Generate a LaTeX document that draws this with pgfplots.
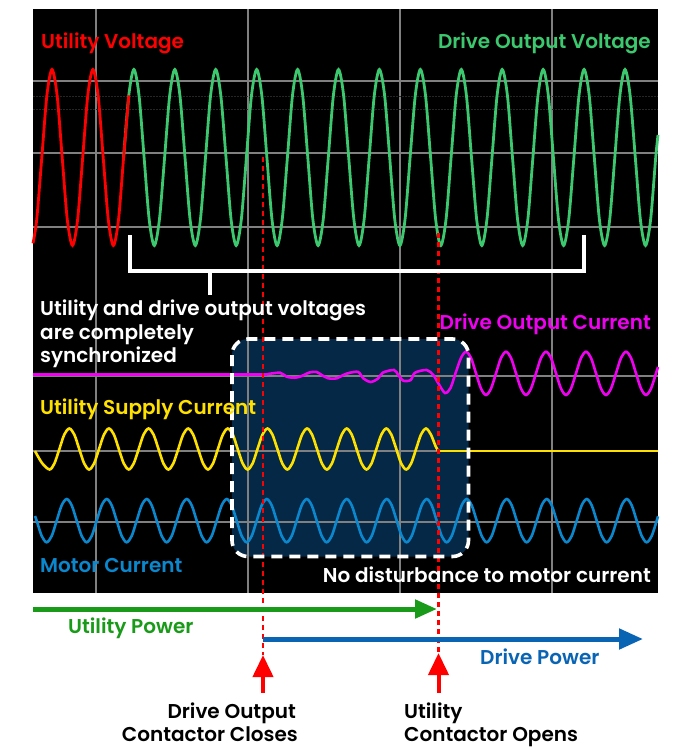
\documentclass[border=0pt]{standalone}
\usepackage{pgfplots}
\pgfplotsset{compat=1.18}
\usepackage{fontspec}
\setmainfont{Poppins}[BoldFont={Poppins SemiBold}]
\usetikzlibrary{arrows.meta}
\definecolor{vred}{RGB}{255,0,0}
\definecolor{vgreen}{RGB}{60,200,110}
\definecolor{cmag}{RGB}{240,0,240}
\definecolor{cyel}{RGB}{255,225,0}
\definecolor{cblue}{RGB}{10,135,205}
\definecolor{boxfill}{RGB}{5,40,70}
\definecolor{gridgray}{RGB}{128,128,128}
\definecolor{pgreen}{RGB}{25,155,25}
\definecolor{pblue}{RGB}{10,100,180}
\begin{document}
\begin{tikzpicture}
\begin{axis}[at={(0,0)}, anchor=south west, scale only axis, width=677pt, height=747pt,
  xmin=0, xmax=677, ymin=0, ymax=747, y dir=reverse, hide axis, clip=false]
\coordinate (TL) at (axis cs:0,0);
\coordinate (BR) at (axis cs:677,747);
% scope background
\fill[black] (axis cs:33,9) rectangle (axis cs:658,593);
\fill[boxfill, rounded corners=16pt] (axis cs:232,339) rectangle (axis cs:468.5,556.5);
% grid
\foreach \gx in {96,248,400,552}{
  \edef\tmp{\noexpand\draw[gridgray, line width=1.2pt] (axis cs:\gx,9) -- (axis cs:\gx,593);}\tmp}
\foreach \gy in {81,153,227,376,451,522}{
  \edef\tmp{\noexpand\draw[gridgray, line width=1.2pt] (axis cs:33,\gy) -- (axis cs:658,\gy);}\tmp}
\foreach \gy in {96,109}{
  \edef\tmp{\noexpand\draw[gray!30!black, line width=0.6pt, dash pattern=on 1.5pt off 1.5pt] (axis cs:33,\gy) -- (axis cs:658,\gy);}\tmp}
% drive output voltage (green)
\addplot[vgreen, line width=2.8pt, smooth] coordinates {
(123.6,157.5)(128.8,95.3)
(133.9,69.5)(139.0,95.3)(144.1,157.5)(149.2,219.7)(154.3,245.5)(159.4,219.7)(164.6,157.5)(169.7,95.3)
(174.8,69.5)(179.9,95.3)(185.0,157.5)(190.1,219.7)(195.3,245.5)(200.4,219.7)(205.5,157.5)(210.6,95.3)
(215.7,69.5)(220.8,95.3)(226.0,157.5)(231.1,219.7)(236.2,245.5)(241.3,219.7)(246.4,157.5)(251.5,95.3)
(256.7,69.5)(261.8,95.3)(266.9,157.5)(272.0,219.7)(277.1,245.5)(282.2,219.7)(287.4,157.5)(292.5,95.3)
(297.6,69.5)(302.7,95.3)(307.8,157.5)(312.9,219.7)(318.1,245.5)(323.2,219.7)(328.3,157.5)(333.4,95.3)
(338.5,69.5)(343.6,95.3)(348.7,157.5)(353.9,219.7)(359.0,245.5)(364.1,219.7)(369.2,157.5)(374.3,95.3)
(379.4,69.5)(384.6,95.3)(389.7,157.5)(394.8,219.7)(399.9,245.5)(405.0,219.7)(410.1,157.5)(415.3,95.3)
(420.4,69.5)(425.5,95.3)(430.6,157.5)(435.7,219.7)(440.8,245.5)(446.0,219.7)(451.1,157.5)(456.2,95.3)
(461.3,69.5)(466.4,95.3)(471.5,157.5)(476.7,219.7)(481.8,245.5)(486.9,219.7)(492.0,157.5)(497.1,95.3)
(502.2,69.5)(507.4,95.3)(512.5,157.5)(517.6,219.7)(522.7,245.5)(527.8,219.7)(532.9,157.5)(538.0,95.3)
(543.2,69.5)(548.3,95.3)(553.4,157.5)(558.5,219.7)(563.6,245.5)(568.7,219.7)(573.9,157.5)(579.0,95.3)
(584.1,69.5)(589.2,95.3)(594.3,157.5)(599.4,219.7)(604.6,245.5)(609.7,219.7)(614.8,157.5)(619.9,95.3)
(625.0,69.5)(630.1,95.3)(635.3,157.5)(640.4,219.7)(645.5,245.5)(650.6,219.7)(655.7,157.5)(658,135)
};
% utility voltage (red)
\addplot[vred, line width=2.8pt, smooth] coordinates {
(33,243.3)(36.7,219.7)(41.8,157.5)(46.9,95.3)(52.0,69.5)(57.1,95.3)(62.2,157.5)(67.3,219.7)
(72.5,245.5)(77.6,219.7)(82.7,157.5)(87.8,95.3)(92.9,69.5)(98.1,95.3)(103.2,157.5)(108.3,219.7)
(113.4,245.5)(118.5,219.7)(123.6,157.5)(128.8,95.3)
};
% drive output current (magenta)
\addplot[cmag, line width=2.6pt] coordinates {(33,374.3)(266.7,374.3)};
\addplot[cmag, line width=2.6pt, smooth] coordinates {
(266.7,374.3)(280,372.7)(286.7,376.7)(295,377.7)(301.7,376)(310,372.3)(316.7,372)(321.7,375)
(328.3,378.3)(336.7,378.3)(343.3,375)(350,372.7)(358.3,372)(363.3,378.3)(370.7,382)(378.3,378.3)
(382.7,372.7)(394,370)(398.3,375)(403.3,380.7)(410.7,380)(415,372.7)(426.7,370)(433.3,375)
(438.3,383.3)(445,393)(450.5,388)(455.5,373.3)(461,357.9)
(466,351.7)(471,357.9)(476,373.3)(481,388.6)(486,395)(491,388.6)(496,373.3)(501,357.9)
(506,351.7)(511,357.9)(516,373.3)(521,388.6)(526,395)(531,388.6)(536,373.3)(541,357.9)
(546,351.7)(551,357.9)(556,373.3)(561,388.6)(566,395)(571,388.6)(576,373.3)(581,357.9)
(586,351.7)(591,357.9)(596,373.3)(601,388.6)(606,395)(611,388.6)(616,373.3)(621,357.9)
(626,351.7)(631,357.9)(636,373.3)(641,388.6)(646,395)(651,388.6)(656,373.3)(658,367)
};
% utility supply current (yellow)
\addplot[cyel, line width=2.6pt, smooth] coordinates {
(35,451)(42,463)(49.5,469.5)(54.4,463.5)(59.4,449)(64.3,434.5)
(69.3,428.5)(74.3,434.5)(79.2,449)(84.2,463.5)(89.1,469.5)(94.1,463.5)(99.0,449)(104.0,434.5)
(108.9,428.5)(113.9,434.5)(118.8,449)(123.8,463.5)(128.8,469.5)(133.7,463.5)(138.7,449)(143.6,434.5)
(148.6,428.5)(153.5,434.5)(158.5,449)(163.4,463.5)(168.4,469.5)(173.3,463.5)(178.3,449)(183.2,434.5)
(188.2,428.5)(193.1,434.5)(198.1,449)(203.1,463.5)(208.0,469.5)(213.0,463.5)(217.9,449)(222.9,434.5)
(227.8,428.5)(232.8,434.5)(237.7,449)(242.7,463.5)(247.6,469.5)(252.6,463.5)(257.5,449)(262.5,434.5)
(267.5,428.5)(272.4,434.5)(277.4,449)(282.3,463.5)(287.3,469.5)(292.2,463.5)(297.2,449)(302.1,434.5)
(307.1,428.5)(312.0,434.5)(317.0,449)(321.9,463.5)(326.9,469.5)(331.9,463.5)(336.8,449)(341.8,434.5)
(346.7,428.5)(351.7,434.5)(356.6,449)(361.6,463.5)(366.5,469.5)(371.5,463.5)(376.4,449)(381.4,434.5)
(386.3,428.5)(391.3,434.5)(396.3,449)(401.2,463.5)(406.2,469.5)(411.1,463.5)(416.1,449)(421.0,434.5)
(426.0,428.5)(430.9,434.5)(435.5,446)(438.3,451)
};
\addplot[cyel, line width=2.8pt] coordinates {(438.3,451)(658,451)};
% motor current (blue)
\addplot[cblue, line width=2.6pt, smooth] coordinates {
(35,516)(36.7,520.7)(41.7,536.0)(46.7,542.3)(51.7,536.0)(56.7,520.7)(61.7,505.3)
(66.7,499)(71.7,505.3)(76.7,520.7)(81.7,536.0)(86.7,542.3)(91.7,536.0)(96.7,520.7)(101.7,505.3)
(106.7,499)(111.7,505.3)(116.7,520.7)(121.7,536.0)(126.7,542.3)(131.7,536.0)(136.7,520.7)(141.7,505.3)
(146.7,499)(151.7,505.3)(156.7,520.7)(161.7,536.0)(166.7,542.3)(171.7,536.0)(176.7,520.7)(181.7,505.3)
(186.7,499)(191.7,505.3)(196.7,520.7)(201.7,536.0)(206.7,542.3)(211.7,536.0)(216.7,520.7)(221.7,505.3)
(226.7,499)(231.7,505.3)(236.7,520.7)(241.7,536.0)(246.7,542.3)(251.7,536.0)(256.7,520.7)(261.7,505.3)
(266.7,499)(271.7,505.3)(276.7,520.7)(281.7,536.0)(286.7,542.3)(291.7,536.0)(296.7,520.7)(301.7,505.3)
(306.7,499)(311.7,505.3)(316.7,520.7)(321.7,536.0)(326.7,542.3)(331.7,536.0)(336.7,520.7)(341.7,505.3)
(346.7,499)(351.7,505.3)(356.7,520.7)(361.7,536.0)(366.7,542.3)(371.7,536.0)(376.7,520.7)(381.7,505.3)
(386.7,499)(391.7,505.3)(396.7,520.7)(401.7,536.0)(406.7,542.3)(411.7,536.0)(416.7,520.7)(421.7,505.3)
(426.7,499)(431.7,505.3)(436.7,520.7)(441.7,536.0)(446.7,542.3)(451.7,536.0)(456.7,520.7)(461.7,505.3)
(466.7,499)(471.7,505.3)(476.7,520.7)(481.7,536.0)(486.7,542.3)(491.7,536.0)(496.7,520.7)(501.7,505.3)
(506.7,499)(511.7,505.3)(516.7,520.7)(521.7,536.0)(526.7,542.3)(531.7,536.0)(536.7,520.7)(541.7,505.3)
(546.7,499)(551.7,505.3)(556.7,520.7)(561.7,536.0)(566.7,542.3)(571.7,536.0)(576.7,520.7)(581.7,505.3)
(586.7,499)(591.7,505.3)(596.7,520.7)(601.7,536.0)(606.7,542.3)(611.7,536.0)(616.7,520.7)(621.7,505.3)
(626.7,499)(631.7,505.3)(636.7,520.7)(641.7,536.0)(646.7,542.3)(651.7,536.0)(656.7,520.7)(658,516.3)
};
% red dashed event lines
\addplot[vred, line width=2.4pt, dash pattern=on 5pt off 4pt] coordinates {(263,157)(263,655)};
\addplot[vred, line width=2.4pt, dash pattern=on 5pt off 4pt] coordinates {(438.5,233)(438.5,653)};
% highlight box border
\draw[white, line width=3.6pt, dash pattern=on 11pt off 7pt, rounded corners=16pt]
  (axis cs:232,339) rectangle (axis cs:468.5,556.5);
% bracket
\draw[white, line width=4pt] (axis cs:129.5,235) -- (axis cs:129.5,270.5) -- (axis cs:584,270.5) -- (axis cs:584,235);
\draw[white, line width=4pt] (axis cs:210,270.5) -- (axis cs:210,295);
% power arrows
\addplot[pgreen, line width=5pt, -{Triangle[length=22pt,width=18pt]}] coordinates {(33,609)(437,609)};
\addplot[pblue, line width=5pt, -{Triangle[length=24pt,width=20pt]}] coordinates {(263,639)(643,639)};
% contactor arrows
\addplot[vred, line width=4pt, -{Triangle[length=22pt,width=20pt]}] coordinates {(263,693)(263,655)};
\addplot[vred, line width=4pt, -{Triangle[length=22pt,width=20pt]}] coordinates {(438.5,693)(438.5,653)};
% texts
\tikzset{lbl/.style={inner sep=0pt, font=\fontsize{20}{24}\selectfont\bfseries}}
\node[lbl, anchor=base west, text=vred] at (axis cs:41,48) {Utility Voltage};
\node[lbl, anchor=base east, text=vgreen] at (axis cs:651,48) {Drive Output Voltage};
\node[lbl, anchor=base west, text=white] at (axis cs:40,315) {Utility and drive output voltages};
\node[lbl, anchor=base west, text=white] at (axis cs:40,339) {are completely};
\node[lbl, anchor=base west, text=white] at (axis cs:40,362) {synchronized};
\node[lbl, anchor=base east, text=cmag] at (axis cs:651,329) {Drive Output Current};
\node[lbl, anchor=base west, text=cyel] at (axis cs:40,414) {Utility Supply Current};
\node[lbl, anchor=base west, text=cblue] at (axis cs:40,572.5) {Motor Current};
\node[lbl, anchor=base east, text=white] at (axis cs:651,582.5) {No disturbance to motor current};
\node[lbl, anchor=base west, text=pgreen] at (axis cs:68,633) {Utility Power};
\node[lbl, anchor=base west, text=pblue] at (axis cs:480,664) {Drive Power};
\node[lbl, anchor=base east, text=black] at (axis cs:296,718) {Drive Output};
\node[lbl, anchor=base east, text=black] at (axis cs:298,741) {Contactor Closes};
\node[lbl, anchor=base west, text=black] at (axis cs:404,718) {Utility};
\node[lbl, anchor=base west, text=black] at (axis cs:404,741) {Contactor Opens};
\end{axis}
\pgfresetboundingbox
\path (TL) rectangle (BR);
\end{tikzpicture}
\end{document}
